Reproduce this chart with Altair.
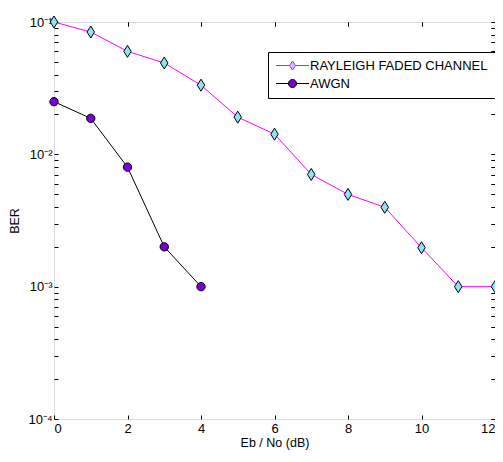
import altair as alt
import pandas as pd

# ---- data ----
snr_rayleigh = [0, 1, 2, 3, 4, 5, 6, 7, 8, 9, 10, 11, 12]
ber_rayleigh = [0.1, 0.084, 0.060, 0.049, 0.0333, 0.0191, 0.0142, 0.00705,
                0.00498, 0.00398, 0.00197, 0.001, 0.001]
snr_awgn = [0, 1, 2, 3, 4]
ber_awgn = [0.025, 0.0187, 0.008, 0.002, 0.001]
series_names = ["RAYLEIGH FADED CHANNEL", "AWGN"]
line_colors = ["#FF00FF", "#000000"]
marker_fills = ["#8EE4F0", "#7A00D8"]
x_ticks = [0, 2, 4, 6, 8, 10, 12]
y_ticks = [m * 10.0 ** e for e in (-4, -3, -2) for m in range(1, 10)] + [0.1]

rows = []
for s, b in zip(snr_rayleigh, ber_rayleigh):
    rows.append({"snr": s, "ber": b, "series": series_names[0]})
for s, b in zip(snr_awgn, ber_awgn):
    rows.append({"snr": s, "ber": b, "series": series_names[1]})
df = pd.DataFrame(rows)

FONT = "Liberation Sans"
diamond = "M0,-1L0.62,0L0,1L-0.62,0Z"
leg_diamond = "M-3,0H-0.55M0.55,0H3M0,-0.82L0.55,0L0,0.82L-0.55,0Z"
leg_circle = "M-3,0H-0.73M0.73,0H3M-0.73,0A0.73,0.73,0,1,0,0.73,0A0.73,0.73,0,1,0,-0.73,0Z"

label_expr = (
    "abs(log(datum.value)/LN10 - round(log(datum.value)/LN10)) < 0.001 ? "
    "('10' + ({'-1':'⁻¹','-2':'⁻²','-3':'⁻³','-4':'⁻⁴'})[''+round(log(datum.value)/LN10)]) : ''"
)

xscale = alt.Scale(domain=[0, 12], nice=False, zero=False)
yscale = alt.Scale(type="log", domain=[1e-4, 1e-1], nice=False)

x_main = alt.X("snr:Q", scale=xscale,
               axis=alt.Axis(values=x_ticks, orient="bottom", offset=-4, tickSize=4,
                             domain=False, grid=False, tickColor="black",
                             labelFont=FONT, labelFontSize=13, labelColor="black",
                             labelPadding=3, title="Eb / No (dB)", titleFont=FONT,
                             titleFontSize=12.5, titleFontWeight="normal",
                             titleColor="black", titlePadding=1))
y_main = alt.Y("ber:Q", scale=yscale,
               axis=alt.Axis(values=y_ticks, orient="left", offset=-4, tickSize=4,
                             domain=False, grid=False, tickColor="black",
                             labelExpr=label_expr, labelFont=FONT, labelFontSize=13,
                             labelColor="black", labelPadding=2, title="BER",
                             titleFont=FONT, titleFontSize=12.5, titleFontWeight="normal",
                             titleColor="black", titlePadding=6))

x_top = alt.X("snr:Q", scale=xscale,
              axis=alt.Axis(values=x_ticks, orient="top", offset=-4, tickSize=4,
                            domain=False, grid=False, labels=False, title=None,
                            tickColor="black"))
y_right = alt.Y("ber:Q", scale=yscale,
                axis=alt.Axis(values=y_ticks, orient="right", offset=-4, tickSize=4,
                              domain=False, grid=False, labels=False, title=None,
                              tickColor="black"))

legend_shape_expr = ("datum.value === '%s' ? '%s' : '%s'"
                     % (series_names[1], leg_circle, leg_diamond))
legend_fill_expr = ("datum.value === '%s' ? '%s' : '%s'"
                    % (series_names[1], marker_fills[1], marker_fills[0]))

lines = alt.Chart(df).mark_line(strokeWidth=1).encode(
    x=x_main, y=y_main,
    stroke=alt.Stroke("series:N",
                      scale=alt.Scale(domain=series_names, range=line_colors),
                      legend=alt.Legend(orient="none", legendX=214, legendY=30,
                                        title=None, symbolSize=121,
                                        symbolType=alt.ExprRef(expr=legend_shape_expr),
                                        symbolFillColor=alt.ExprRef(expr=legend_fill_expr),
                                        symbolStrokeWidth=1, symbolOffset=11,
                                        labelFont=FONT, labelFontSize=13,
                                        labelColor="black", labelLimit=0,
                                        labelOffset=11, rowPadding=4, padding=7,
                                        strokeColor="black", fillColor="white")),
    order="snr:Q",
)

pts_r = alt.Chart(df).transform_filter(alt.datum.series == series_names[0]).mark_point(
    shape=diamond, size=144, filled=True, fill=marker_fills[0], stroke="black",
    strokeWidth=1, opacity=1).encode(x=x_top, y=y_right)
pts_a = alt.Chart(df).transform_filter(alt.datum.series == series_names[1]).mark_point(
    shape="circle", size=70, filled=True, fill=marker_fills[1], stroke="black",
    strokeWidth=1, opacity=1).encode(x=x_top, y=y_right)

chart = (
    alt.layer(lines, pts_r, pts_a)
    .resolve_axis(x="independent", y="independent")
    .properties(width=441, height=397,
                autosize=alt.AutoSizeParams(type="none"),
                padding={"left": 46, "top": 14, "right": 0, "bottom": 32})
    .configure_view(stroke="black", strokeWidth=1.5)
    .configure(background="white")
)

chart.save("out.html", embed_options={"renderer": "svg", "actions": False})
